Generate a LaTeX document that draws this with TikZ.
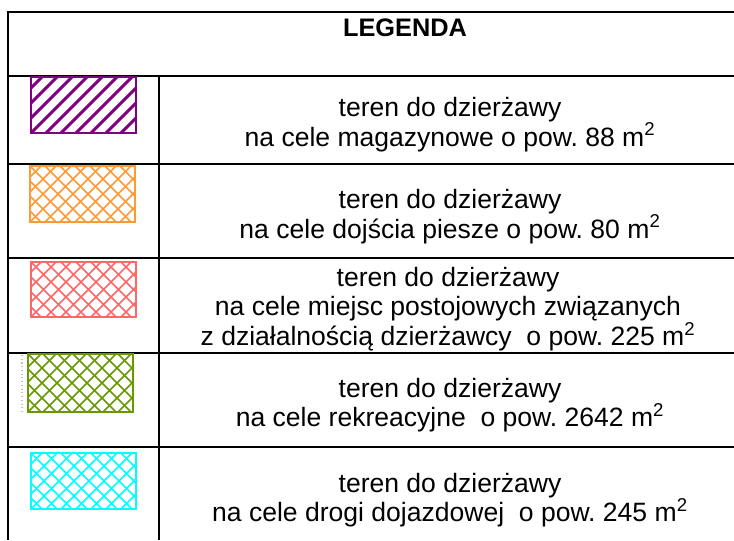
\documentclass[tikz,border=0pt]{standalone}
\usepackage{fontspec}
\setmainfont{Liberation Sans}
\usepackage{tikz}
\frenchspacing
\definecolor{hatchpurple}{RGB}{128,0,128}
\definecolor{hatchorange}{RGB}{255,153,51}
\definecolor{hatchpink}{RGB}{255,102,102}
\definecolor{hatchgreen}{RGB}{102,153,0}
\definecolor{hatchcyan}{RGB}{0,255,255}

\begin{document}
\begin{tikzpicture}[x=0.75pt,y=-0.75pt,
    rule/.style={line width=1.3pt},
    desc/.style={align=center,inner sep=0pt,font=\fontsize{19.9}{22}\selectfont},
    swatch/.style={line width=1.8pt}]
    \useasboundingbox (0,0) rectangle (734,540);
    \draw[rule] (734,12) -| (8,540);
    \draw[rule] (8,76) -- (734,76) (8,164) -- (734,164) (8,258) -- (734,258)
      (8,353) -- (734,353) (8,447) -- (734,447);
    \draw[rule] (159,76) -- (159,540);
    \node[font=\bfseries\fontsize{19}{22}\selectfont] (title) at (405,28) {LEGENDA};
    \node[desc] (magazyn) at (450,124.5) {teren do dzierżawy\\na cele magazynowe o pow. 88 m\textsuperscript{2}};
    \node[desc] (piesze) at (450,216.5) {teren do dzierżawy\\na cele dojścia piesze o pow. 80 m\textsuperscript{2}};
    \node[desc] (postoj) at (448,309) {teren do dzierżawy\\na cele miejsc postojowych związanych\\z działalnością dzierżawcy~ o pow. 225 m\textsuperscript{2}};
    \node[desc] (rekreacja) at (450,405) {teren do dzierżawy\\na cele rekreacyjne~ o pow. 2642 m\textsuperscript{2}};
    \node[desc] (dojazd) at (450,500) {teren do dzierżawy\\na cele drogi dojazdowej~ o pow. 245 m\textsuperscript{2}};
    \begin{scope}
      \clip (31,77) rectangle (136,133);
      \foreach \k in {-60,-45,...,105}
        \draw[hatchpurple,line width=2.2pt] (31+\k,133) -- ++(60,-60);
    \end{scope}
    \draw[hatchpurple,swatch] (31,77) rectangle (136,133);
    \foreach \sx/\sy/\sh/\sc in {30/166/56/hatchorange,31/262/55/hatchpink,28/354/58/hatchgreen,31/453/56/hatchcyan}{
      \begin{scope}
        \clip (\sx,\sy) rectangle ++(105,\sh);
        \foreach \k in {-60,-45,...,105}{
          \draw[\sc,line width=1.1pt] (\sx+\k,\sy) -- ++(60,60);
          \draw[\sc,line width=1.1pt] (\sx+\k,\sy+\sh) -- ++(60,-60);
        }
      \end{scope}
      \draw[\sc,swatch] (\sx,\sy) rectangle ++(105,\sh);
    }
    \draw[gray!50,dotted,line width=0.8pt] (22,355) -- (22,412);
\end{tikzpicture}
\end{document}
